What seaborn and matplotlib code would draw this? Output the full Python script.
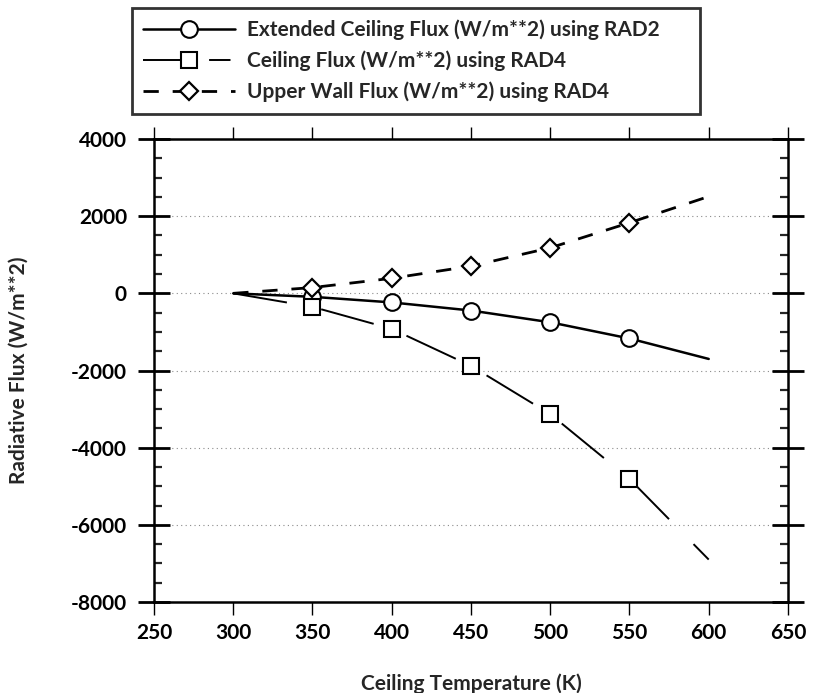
import matplotlib
matplotlib.use("Agg")
import matplotlib.pyplot as plt
from matplotlib.ticker import MultipleLocator
import seaborn as sns
import pandas as pd

# Ceiling temperature (K) and radiative flux results (W/m**2)
temps = [300, 350, 400, 450, 500, 550, 600]
ext_ceiling_rad2 = [0, -90, -235, -445, -750, -1170, -1700]
ceiling_rad4 = [0, -350, -920, -1880, -3130, -4810, -6900]
upper_wall_rad4 = [0, 150, 390, 705, 1180, 1830, 2510]

series_labels = [
    "Extended Ceiling Flux (W/m**2) using RAD2",
    "Ceiling Flux (W/m**2) using RAD4",
    "Upper Wall Flux (W/m**2) using RAD4",
]
x_ticks = [250, 300, 350, 400, 450, 500, 550, 600, 650]
y_ticks = [-8000, -6000, -4000, -2000, 0, 2000, 4000]

sns.set_style("white")
plt.rcParams["font.family"] = ["Lato", "DejaVu Sans"]
plt.rcParams["font.weight"] = "bold"
plt.rcParams["axes.unicode_minus"] = False

fig = plt.figure(figsize=(8.13, 6.93), dpi=100)
ax = fig.add_axes([0.1894, 0.1313, 0.7798, 0.6681])

df = pd.DataFrame({
    "T": temps,
    "ext": ext_ceiling_rad2,
    "ceil": ceiling_rad4,
    "wall": upper_wall_rad4,
})
marked = [1, 2, 3, 4, 5]

sns.lineplot(data=df, x="T", y="ext", ax=ax, color="black", lw=1.8,
             marker="o", markersize=12, markerfacecolor="white",
             markeredgecolor="black", markeredgewidth=1.5,
             markevery=marked, label=series_labels[0])
sns.lineplot(data=df, x="T", y="ceil", ax=ax, color="black", lw=1.4,
             linestyle=(0, (28, 18)),
             marker="s", markersize=11, markerfacecolor="white",
             markeredgecolor="black", markeredgewidth=1.5,
             markevery=marked, label=series_labels[1])
sns.lineplot(data=df, x="T", y="wall", ax=ax, color="black", lw=2.0,
             linestyle=(0, (5.5, 5)),
             marker="D", markersize=9, markerfacecolor="white",
             markeredgecolor="black", markeredgewidth=1.6,
             markevery=marked, label=series_labels[2])

ax.set_xlim(250, 650)
ax.set_ylim(-8000, 4000)
ax.set_xticks(x_ticks)
ax.set_yticks(y_ticks)
ax.yaxis.set_minor_locator(MultipleLocator(500))

# dotted horizontal guides at the major flux levels
ax.yaxis.grid(True, which="major", linestyle=(0, (1, 3)), color="#8a8a8a", lw=0.8)
ax.xaxis.grid(False)

for side in ["left", "right", "top", "bottom"]:
    ax.spines[side].set_visible(True)
    ax.spines[side].set_color("black")
    ax.spines[side].set_linewidth(1.8)

ax.tick_params(axis="y", which="major", direction="inout", length=23, width=2,
               left=True, right=True, labelsize=15, pad=8, colors="black")
ax.tick_params(axis="y", which="minor", direction="in", length=6, width=1.6,
               left=True, right=True)
ax.tick_params(axis="x", which="major", direction="out", length=9, width=1.0,
               bottom=True, top=True, labelsize=15, pad=6, colors="black")

ax.set_xlabel("Ceiling Temperature (K)", fontsize=15, fontweight="bold", labelpad=22)
ax.set_ylabel("Radiative Flux (W/m**2)", fontsize=15, fontweight="bold", labelpad=30)

leg = ax.legend(loc="upper left", bbox_to_anchor=(0.162, 0.988, 0.699, 0.0),
                bbox_transform=fig.transFigure, mode="expand", fontsize=15,
                frameon=True, fancybox=False, handlelength=4.4, handletextpad=0.6,
                borderaxespad=0, labelspacing=0.5, borderpad=0.55)
leg.get_frame().set_edgecolor("black")
leg.get_frame().set_linewidth(2.0)
for t in leg.get_texts():
    t.set_fontweight("bold")
# legend key for the ceiling series: solid lead-in, marker, then a short dash
leg.get_lines()[1].set_linestyle((0, (28, 6, 11, 10)))

fig.savefig("out.png", dpi=100)
